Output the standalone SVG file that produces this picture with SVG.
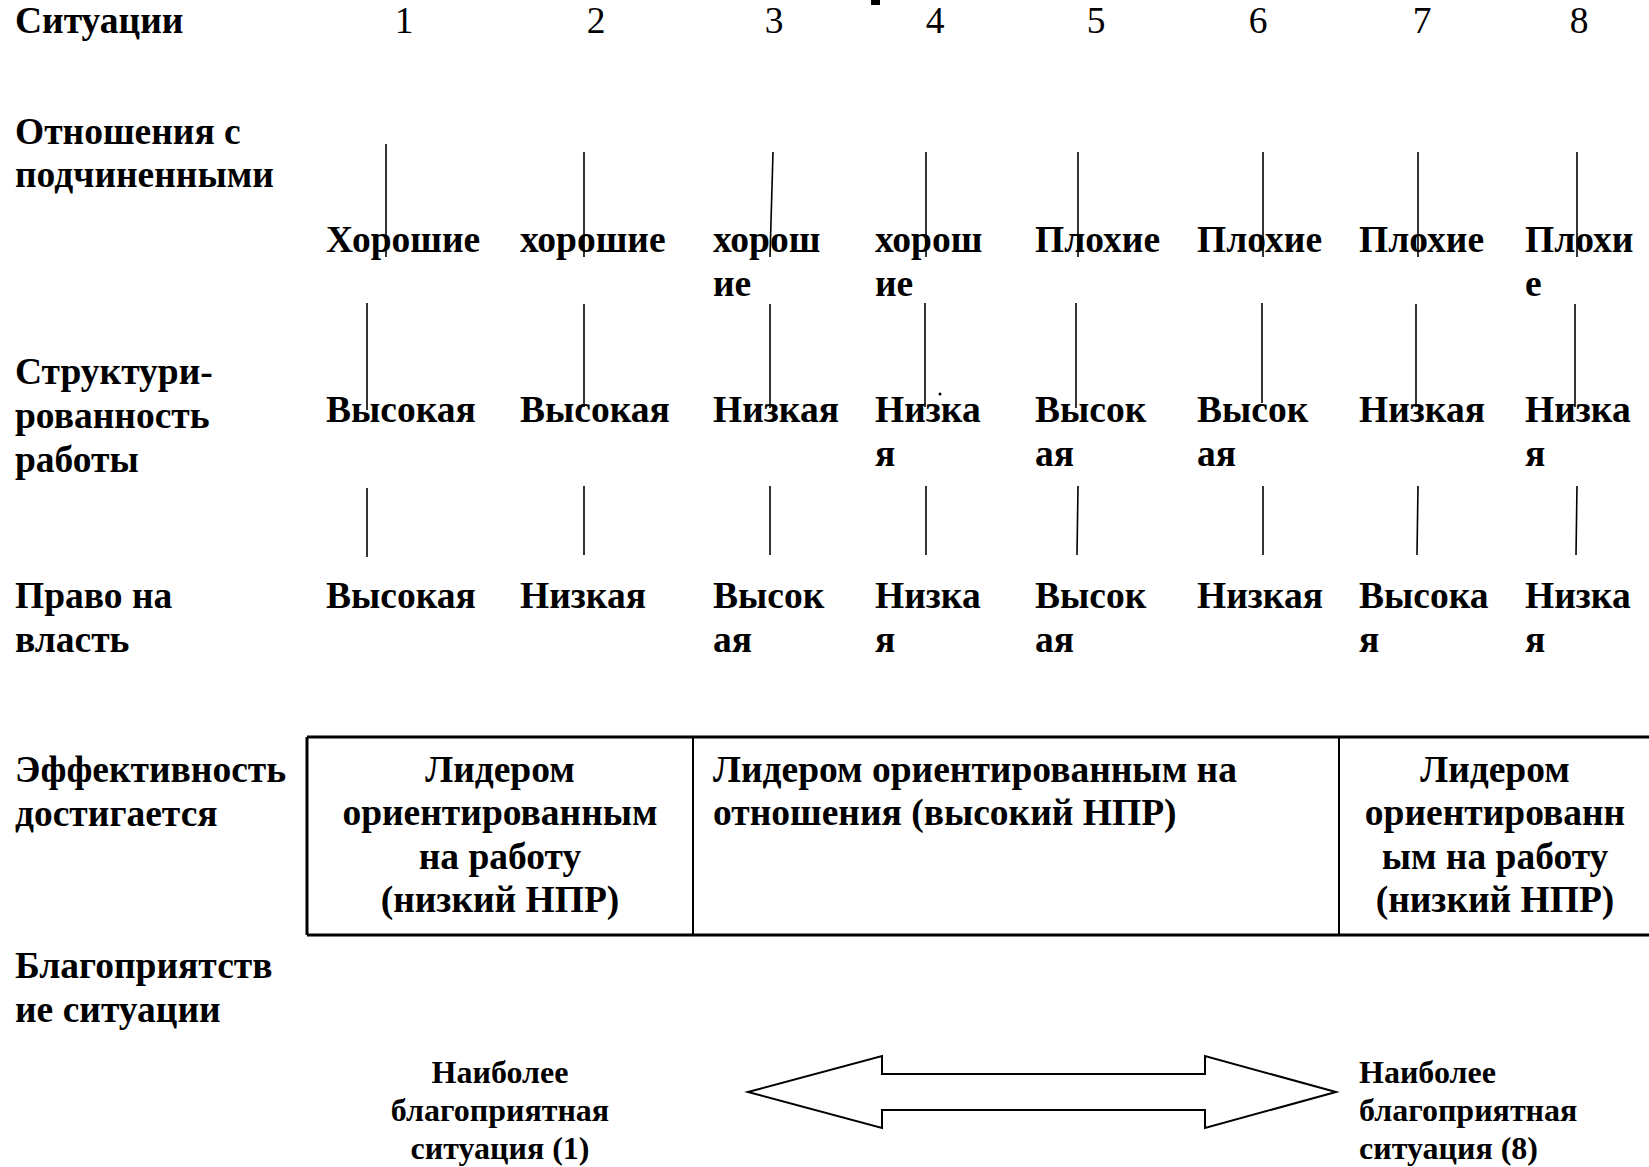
<svg xmlns="http://www.w3.org/2000/svg" width="1649" height="1167" viewBox="0 0 1649 1167">
  <style>
    .t { font-family: "Liberation Serif", "Times New Roman", serif; font-weight: bold; font-size: 37.5px; fill: #000; }
    .num { font-family: "Liberation Serif", "Times New Roman", serif; font-weight: normal; font-size: 37.5px; fill: #000; text-anchor: middle; }
    .s { font-family: "Liberation Serif", "Times New Roman", serif; font-weight: bold; font-size: 32px; fill: #000; }
    .mid { text-anchor: middle; }
    .ln { stroke: #000; stroke-width: 1.6; fill: none; }
    .frame { stroke: #000; stroke-width: 3; fill: none; }
    .div { stroke: #000; stroke-width: 2; fill: none; }
  </style>
  <rect width="1649" height="1167" fill="#fff"/>

  <!-- stray mark at top edge -->
  <rect x="871" y="0" width="9" height="5" fill="#000"/>

  <!-- row headings -->
  <g id="labels">
    <text class="t" x="15" y="33">Ситуации</text>
    <text class="t" x="15" y="144">Отношения с</text>
    <text class="t" x="15" y="187">подчиненными</text>
    <text class="t" x="15" y="384">Структури-</text>
    <text class="t" x="15" y="428">рованность</text>
    <text class="t" x="15" y="472">работы</text>
    <text class="t" x="15" y="608">Право на</text>
    <text class="t" x="15" y="652">власть</text>
    <text class="t" x="15" y="782">Эффективность</text>
    <text class="t" x="15" y="826">достигается</text>
    <text class="t" x="15" y="978">Благоприятств</text>
    <text class="t" x="15" y="1022">ие ситуации</text>
  </g>

  <!-- situation numbers -->
  <g id="numbers">
    <text class="num" x="404" y="33">1</text>
    <text class="num" x="596" y="33">2</text>
    <text class="num" x="774" y="33">3</text>
    <text class="num" x="935" y="33">4</text>
    <text class="num" x="1096" y="33">5</text>
    <text class="num" x="1258" y="33">6</text>
    <text class="num" x="1422" y="33">7</text>
    <text class="num" x="1579" y="33">8</text>
  </g>

  <!-- connector stubs between rows -->
  <g id="connectors">
    <line class="ln" x1="386" y1="144" x2="386" y2="257"/>
    <line class="ln" x1="584" y1="152" x2="584" y2="257"/>
    <line class="ln" x1="773" y1="152" x2="770" y2="257"/>
    <line class="ln" x1="926" y1="152" x2="926" y2="257"/>
    <line class="ln" x1="1078" y1="152" x2="1078" y2="257"/>
    <line class="ln" x1="1263" y1="152" x2="1263" y2="257"/>
    <line class="ln" x1="1418" y1="152" x2="1418" y2="257"/>
    <line class="ln" x1="1577" y1="152" x2="1577" y2="257"/>

    <line class="ln" x1="367" y1="303" x2="367" y2="410"/>
    <line class="ln" x1="584" y1="304" x2="584" y2="407"/>
    <line class="ln" x1="770" y1="304" x2="770" y2="408"/>
    <line class="ln" x1="925" y1="303" x2="925" y2="407"/>
    <line class="ln" x1="1076" y1="303" x2="1076" y2="408"/>
    <line class="ln" x1="1262" y1="303" x2="1262" y2="403"/>
    <line class="ln" x1="1416" y1="304" x2="1416" y2="407"/>
    <line class="ln" x1="1575" y1="304" x2="1575" y2="407"/>

    <line class="ln" x1="367" y1="488" x2="367" y2="557"/>
    <line class="ln" x1="584" y1="486" x2="584" y2="555"/>
    <line class="ln" x1="770" y1="486" x2="770" y2="555"/>
    <line class="ln" x1="926" y1="486" x2="926" y2="555"/>
    <line class="ln" x1="1078" y1="486" x2="1077" y2="555"/>
    <line class="ln" x1="1263" y1="486" x2="1263" y2="555"/>
    <line class="ln" x1="1418" y1="486" x2="1417" y2="555"/>
    <line class="ln" x1="1577" y1="486" x2="1576" y2="555"/>

    <circle cx="940" cy="394" r="1.5" fill="#000"/>
  </g>

  <!-- relations with subordinates -->
  <g id="relations">
    <text class="t" x="326" y="252">Хорошие</text>
    <text class="t" x="520" y="252">хорошие</text>
    <text class="t" x="713" y="252">хорош</text>
    <text class="t" x="713" y="296">ие</text>
    <text class="t" x="875" y="252">хорош</text>
    <text class="t" x="875" y="296">ие</text>
    <text class="t" x="1035" y="252">Плохие</text>
    <text class="t" x="1197" y="252">Плохие</text>
    <text class="t" x="1359" y="252">Плохие</text>
    <text class="t" x="1525" y="252">Плохи</text>
    <text class="t" x="1525" y="296">е</text>
  </g>

  <!-- task structure -->
  <g id="structure">
    <text class="t" x="326" y="422">Высокая</text>
    <text class="t" x="520" y="422">Высокая</text>
    <text class="t" x="713" y="422">Низкая</text>
    <text class="t" x="875" y="422">Низка</text>
    <text class="t" x="875" y="466">я</text>
    <text class="t" x="1035" y="422">Высок</text>
    <text class="t" x="1035" y="466">ая</text>
    <text class="t" x="1197" y="422">Высок</text>
    <text class="t" x="1197" y="466">ая</text>
    <text class="t" x="1359" y="422">Низкая</text>
    <text class="t" x="1525" y="422">Низка</text>
    <text class="t" x="1525" y="466">я</text>
  </g>

  <!-- position power -->
  <g id="power">
    <text class="t" x="326" y="608">Высокая</text>
    <text class="t" x="520" y="608">Низкая</text>
    <text class="t" x="713" y="608">Высок</text>
    <text class="t" x="713" y="652">ая</text>
    <text class="t" x="875" y="608">Низка</text>
    <text class="t" x="875" y="652">я</text>
    <text class="t" x="1035" y="608">Высок</text>
    <text class="t" x="1035" y="652">ая</text>
    <text class="t" x="1197" y="608">Низкая</text>
    <text class="t" x="1359" y="608">Высока</text>
    <text class="t" x="1359" y="652">я</text>
    <text class="t" x="1525" y="608">Низка</text>
    <text class="t" x="1525" y="652">я</text>
  </g>

  <!-- effectiveness table -->
  <g id="effectiveness">
    <line class="frame" x1="307" y1="737" x2="1652" y2="737"/>
    <line class="frame" x1="307" y1="935" x2="1652" y2="935"/>
    <line class="frame" x1="307" y1="737" x2="307" y2="935"/>
    <line class="div" x1="693" y1="737" x2="693" y2="935"/>
    <line class="div" x1="1339" y1="737" x2="1339" y2="935"/>

    <text class="t mid" x="500" y="782">Лидером</text>
    <text class="t mid" x="500" y="825">ориентированным</text>
    <text class="t mid" x="500" y="869">на работу</text>
    <text class="t mid" x="500" y="912">(низкий НПР)</text>

    <text class="t" x="713" y="782">Лидером ориентированным на</text>
    <text class="t" x="713" y="825">отношения (высокий НПР)</text>

    <text class="t mid" x="1495" y="782">Лидером</text>
    <text class="t mid" x="1495" y="825">ориентированн</text>
    <text class="t mid" x="1495" y="869">ым на работу</text>
    <text class="t mid" x="1495" y="912">(низкий НПР)</text>
  </g>

  <!-- favourability scale -->
  <g id="scale-left">
    <text class="s mid" x="500" y="1083">Наиболее</text>
    <text class="s mid" x="500" y="1121">благоприятная</text>
    <text class="s mid" x="500" y="1159">ситуация (1)</text>
  </g>
  <g id="scale-arrow">
    <polygon points="748,1092 882,1056 882,1074 1205,1074 1205,1056 1336,1092 1205,1128 1205,1110 882,1110 882,1128" fill="#fff" stroke="#000" stroke-width="2"/>
  </g>
  <g id="scale-right">
    <text class="s" x="1359" y="1083">Наиболее</text>
    <text class="s" x="1359" y="1121">благоприятная</text>
    <text class="s" x="1359" y="1159">ситуация (8)</text>
  </g>
</svg>
